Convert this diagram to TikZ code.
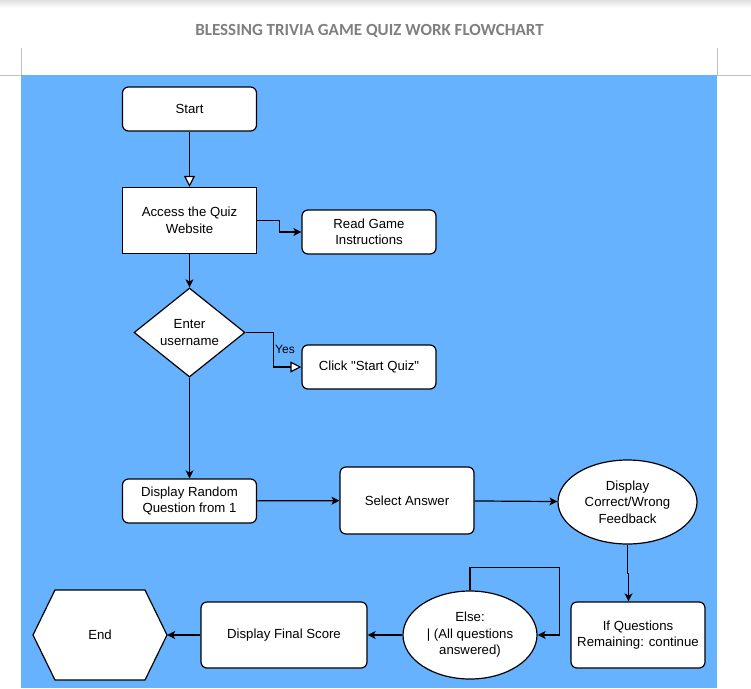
\documentclass[tikz,border=0pt]{standalone}
\usepackage{fontspec}
\setmainfont{Liberation Sans}[Ligatures=TeXOff]
\newfontfamily\titlefont{Carlito}
\usetikzlibrary{shapes.geometric,arrows.meta}
\definecolor{sky}{RGB}{102,178,255}
\definecolor{titlegray}{RGB}{127,127,127}

\begin{document}
\begin{tikzpicture}[x=1pt,y=-1pt,
    every node/.style={font=\fontsize{13.2}{16.5}\selectfont,align=center,inner sep=0pt},
    box/.style={draw,fill=white,line width=1.2pt,minimum width=134pt,minimum height=44pt},
    rbox/.style={box,rounded corners=6pt},
    oval/.style={ellipse,draw,fill=white,line width=1.2pt},
    arr/.style={line width=1.2pt,-{Stealth[length=8pt,width=8pt,inset=2pt]}},
    oarr/.style={line width=1.2pt,-{Triangle[open,fill=white,length=11pt,width=11pt]}}]
            \useasboundingbox (0,0) rectangle (751,688);
            \shade[top color=black!12,bottom color=white] (0,0) rectangle (751,8);
            \node[anchor=base,font=\fontsize{17}{20}\titlefont\bfseries,text=titlegray] (title) at (369.5,35)
                {BLESSING TRIVIA GAME QUIZ WORK FLOWCHART};
            % page corner marks and the blue sheet
            \draw[black!25,line width=0.7pt] (21,48) -- (21,75) -- (0,75);
            \draw[black!25,line width=0.7pt] (717,48) -- (717,75) -- (751,75);
            \fill[sky] (21,75) rectangle (717,688);

            \node[rbox] (start) at (189.5,109) {Start};
            \node[box,minimum height=66pt] (access) at (189.5,220.5) {Access the Quiz\\Website};
            \node[rbox] (read) at (369,232) {Read Game\\Instructions};
            \node[diamond,draw,fill=white,line width=1.2pt,aspect=1.25,minimum width=111pt,minimum height=89pt]
                (enter) at (189.5,332.5) {Enter\\username};
            \node[rbox] (click) at (369,367) {Click "Start Quiz"};
            \node[rbox] (random) at (189.5,501) {Display Random\\Question from 1};
            \node[rbox,minimum height=67pt] (select) at (407,500.5) {Select Answer};
            \node[oval,minimum width=139pt,minimum height=84pt] (feedback) at (627.5,502) {Display\\Correct/Wrong\\Feedback};
            \node[rbox,minimum height=66pt] (ifq) at (638,635) {If Questions\\Remaining: continue};
            \node[oval,minimum width=134pt,minimum height=88pt] (elseq) at (470,635) {Else:\\| (All questions\\answered)};
            \node[rbox,minimum width=166pt,minimum height=66pt] (final) at (284,635) {Display Final Score};
            \draw[fill=white,line width=1.2pt] (33,635) -- (55,590) -- (145,590) -- (167,635) -- (145,680) -- (55,680) -- cycle;
            \node[minimum width=134pt,minimum height=90pt] (finish) at (100,635) {End};

            \draw[oarr] (start) -- (access);
            \draw[arr] (access.east) -- ++(22,0) |- (read.west);
            \draw[arr] (access) -- (enter);
            \draw[oarr] (enter.east) -- ++(28,0) |- (click.west)
                node[pos=0.24,anchor=west,xshift=1pt,font=\fontsize{12}{14}\selectfont] {Yes};
            \draw[arr] (enter) -- (random);
            \draw[arr] (random) -- (select);
            \draw[arr] (select) -- (feedback);
            \draw[arr] (feedback.south) -- ++(0,29) -| ([xshift=-9.5pt]ifq.north);
            \draw[arr] (elseq.north) -- ++(0,-23) -| ([xshift=22pt]elseq.east) -- (elseq.east);
            \draw[arr] (elseq) -- (final);
            \draw[arr] (final) -- (finish);
        \end{tikzpicture}
\end{document}
